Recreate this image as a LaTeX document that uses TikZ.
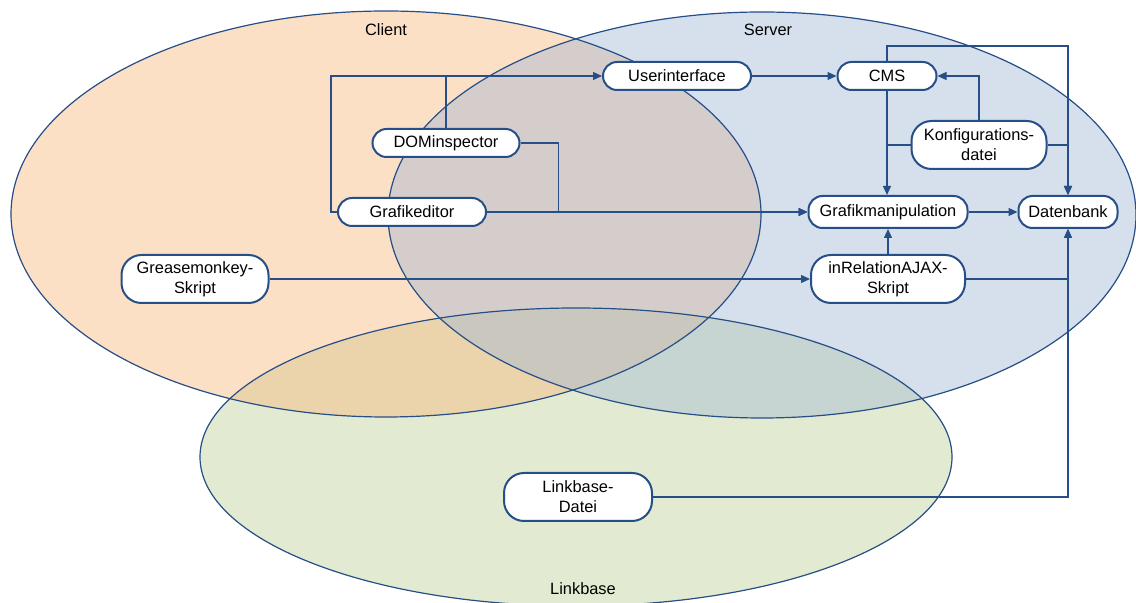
\documentclass[tikz,border=0pt]{standalone}
\usepackage{fontspec}
\setmainfont{Liberation Sans}
\usepackage{xcolor}
\usepackage{tikz}
\usetikzlibrary{arrows.meta, positioning}

\definecolor{lnblue}{RGB}{38,78,135}
\definecolor{clientfill}{RGB}{248,186,128}
\definecolor{serverfill}{RGB}{164,184,213}
\definecolor{linkfill}{RGB}{191,211,153}

\begin{document}
\begin{tikzpicture}[
  x=0.5pt, y=-0.5pt,
  box/.style={draw=lnblue, line width=1pt, fill=white, rounded corners=7pt,
              minimum height=14pt, align=center, inner sep=1pt,
              font=\fontsize{8.2}{10}\selectfont},
  bigbox/.style={box, rounded corners=10pt, minimum height=24pt},
  area/.style={font=\fontsize{8.2}{10}\selectfont},
  conn/.style={draw=lnblue, line width=0.6pt, -{Triangle[length=4.5pt,width=4pt]}},
  link/.style={draw=lnblue, line width=0.6pt}
]
  \useasboundingbox (0,0) rectangle (1136,603);

  % areas
  \fill[linkfill, opacity=0.45]   (576,457) ellipse [x radius=188pt, y radius=74.5pt];
  \fill[clientfill, opacity=0.45] (386,214) ellipse [x radius=187.5pt, y radius=101.5pt];
  \fill[serverfill, opacity=0.45] (762,215) ellipse [x radius=187pt, y radius=101.5pt];
  \draw[lnblue, line width=0.6pt] (386,214) ellipse [x radius=187.5pt, y radius=101.5pt];
  \draw[lnblue, line width=0.6pt] (762,215) ellipse [x radius=187pt, y radius=101.5pt];
  \draw[lnblue, line width=0.6pt] (576,457) ellipse [x radius=188pt, y radius=74.5pt];

  \node[area] (client) at (386,30)  {Client};
  \node[area] (server) at (768,30)  {Server};
  \node[area] (linkb)  at (583,589) {Linkbase};

  % nodes
  \node[box, minimum width=74pt] (ui)   at (677,76)  {Userinterface};
  \node[box, minimum width=49.5pt] (cms) at (887,76) {CMS};
  \node[bigbox, minimum width=67.5pt] (konf) at (979,145) {Konfigurations-\\datei};
  \node[box, minimum width=79.5pt, minimum height=16pt] (gm) at (888,212) {Grafikmanipulation};
  \node[box, minimum width=49.5pt, minimum height=16pt] (db) at (1068,212) {Datenbank};
  \node[bigbox, minimum width=77pt] (ajax) at (888,279) {inRelationAJAX-\\Skript};
  \node[box, minimum width=73.5pt] (dom)  at (446,143) {DOMinspector};
  \node[box, minimum width=74pt] (ged)  at (412,212) {Grafikeditor};
  \node[bigbox, minimum width=73.5pt] (gms) at (195,279) {Greasemonkey-\\Skript};
  \node[bigbox, minimum width=74pt] (lbd) at (578,497) {Linkbase-\\Datei};

  % connections
  \draw[conn] (ged.west) -- ++(-6,0) |- (ui.west);
  \draw[link] (dom.north) -- (dom.north |- ui.west);
  \draw[conn] (dom.east) -- ++(38,0) |- (gm.west);
  \draw[conn] (ged.east) -- (gm.west);
  \draw[conn] (ui.east) -- (cms.west);
  \draw[conn] (cms.south) -- (cms.south |- gm.north);
  \draw[conn] (cms.north) -- ++(0,-15) -| (db.north);
  \draw[conn] (konf.north) |- (cms.east);
  \draw[link] (konf.west) -- (konf.west -| cms.south);
  \draw[conn] (konf.east) -| (db.north);
  \draw[conn] (gm.east) -- (db.west);
  \draw[conn] (ajax.north) -- (ajax.north |- gm.south);
  \draw[conn] (gms.east) -- (ajax.west);
  \draw[conn] (ajax.east) -| (db.south);
  \draw[conn] (lbd.east) -| (db.south);
\end{tikzpicture}
\end{document}
